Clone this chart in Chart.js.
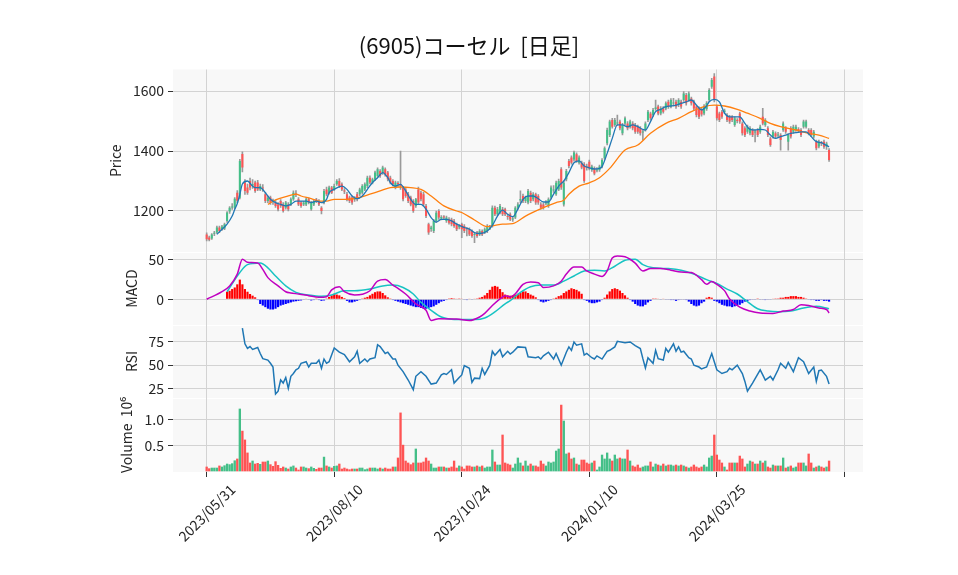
<!DOCTYPE html>
<html>
<head>
<meta charset="utf-8">
<script src="https://cdn.jsdelivr.net/npm/chart.js@4.4.1/dist/chart.umd.min.js"></script>
<style>
  html, body { margin: 0; padding: 0; background: #fff; }
  #wrap { width: 958px; height: 575px; }
</style>
</head>
<body>
<div id="wrap"><canvas id="chart" width="958" height="575"></canvas></div>
<script>
const chartTitle = "(6905)コーセル  [日足]";
const tickIndex = [0, 50, 100, 150, 200, 250];
const tickLabels = ["2023/05/31", "2023/08/10", "2023/10/24", "2024/01/10", "2024/03/25", ""];

// daily candles (yen)
const opens = [
  1122,1112,1108,1124,1128,1145,1139,1142,1167,1198, 1212,1211,1261,1244,1390,1295,1278,1300,1285,1295,
  1295,1272,1278,1256,1233,1245,1232,1228,1222,1233, 1222,1211,1222,1222,1239,1258,1239,1228,1222,1222,
  1239,1206,1222,1236,1233,1211,1228,1272,1261,1278, 1272,1289,1300,1289,1268,1256,1245,1245,1238,1256,
  1256,1261,1272,1283,1311,1295,1306,1317,1333,1328, 1339,1328,1311,1300,1278,1292,1290,1278,1272,1256,
  1245,1233,1217,1272,1261,1256,1217,1156,1140,1133, 1167,1200,1175,1180,1167,1172,1172,1167,1156,1146,
  1156,1150,1141,1139,1133,1120,1128,1122,1133,1128, 1133,1142,1150,1211,1189,1195,1206,1206,1182,1189,
  1172,1178,1211,1235,1250,1233,1228,1261,1239,1256, 1250,1222,1222,1225,1217,1245,1268,1256,1272,1339,
  1222,1306,1367,1378,1372,1389,1361,1361,1356,1346, 1364,1337,1342,1335,1337,1348,1376,1426,1453,1503,
  1487,1492,1498,1459,1492,1492,1481,1492,1487,1481, 1476,1462,1470,1503,1525,1520,1540,1548,1525,1542,
  1542,1564,1548,1558,1564,1553,1564,1570,1587,1570, 1575,1564,1548,1542,1540,1525,1540,1570,1614,1648,
  1548,1525,1531,1530,1520,1514,1514,1487,1502,1525, 1492,1476,1464,1459,1470,1462,1470,1464,1514,1487,
  1476,1442,1448,1459,1452,1453,1470,1476,1431,1476, 1464,1470,1472,1470,1481,1481,1470,1470,1448,1431,
  1415,1428,1431,1415,1403
];
const highs = [
  1127,1116,1125,1132,1150,1150,1152,1160,1198,1215, 1225,1245,1268,1372,1397,1305,1290,1310,1305,1300,
  1302,1290,1288,1262,1250,1250,1240,1235,1228,1238, 1228,1232,1228,1244,1267,1268,1245,1232,1232,1244,
  1244,1232,1238,1242,1238,1215,1272,1280,1283,1282, 1290,1305,1308,1294,1275,1262,1250,1250,1248,1262,
  1276,1288,1294,1316,1317,1310,1333,1344,1338,1350, 1344,1332,1316,1305,1300,1298,1400,1282,1278,1262,
  1250,1238,1242,1280,1266,1262,1222,1160,1150,1172, 1200,1205,1185,1185,1183,1178,1176,1172,1160,1155,
  1160,1155,1145,1144,1137,1128,1132,1138,1137,1144, 1155,1152,1217,1216,1212,1222,1212,1210,1190,1194,
  1180,1215,1228,1267,1256,1250,1272,1266,1261,1260, 1255,1228,1226,1235,1244,1284,1285,1300,1306,1345,
  1300,1339,1372,1384,1400,1394,1384,1366,1361,1356, 1370,1353,1347,1345,1353,1375,1414,1476,1503,1509,
  1509,1520,1503,1492,1514,1498,1503,1498,1492,1486, 1481,1470,1497,1536,1530,1542,1570,1553,1548,1548,
  1564,1570,1575,1576,1570,1575,1570,1598,1592,1597, 1580,1570,1553,1547,1545,1555,1565,1608,1642,1658,
  1553,1530,1536,1540,1525,1519,1518,1514,1508,1530, 1497,1481,1486,1481,1475,1470,1475,1486,1542,1508,
  1481,1447,1469,1464,1462,1458,1497,1481,1458,1481, 1486,1486,1478,1475,1503,1503,1475,1475,1469,1436,
  1436,1432,1436,1430,1408
];
const lows = [
  1100,1100,1105,1118,1125,1128,1135,1138,1162,1192, 1205,1208,1228,1240,1330,1255,1255,1270,1275,1262,
  1268,1268,1265,1228,1228,1222,1222,1212,1200,1212, 1196,1206,1200,1218,1235,1248,1218,1212,1218,1218,
  1224,1202,1218,1228,1218,1190,1224,1250,1256,1258, 1268,1285,1278,1268,1258,1234,1228,1222,1232,1234,
  1250,1256,1268,1278,1290,1290,1302,1312,1312,1322, 1316,1300,1290,1284,1274,1282,1272,1234,1245,1228,
  1217,1195,1212,1222,1234,1217,1178,1122,1132,1128, 1162,1172,1170,1172,1162,1156,1150,1145,1134,1140,
  1111,1128,1117,1118,1112,1094,1112,1118,1118,1124, 1128,1138,1146,1184,1184,1190,1184,1184,1172,1168,
  1165,1174,1206,1228,1228,1228,1224,1228,1234,1222, 1222,1206,1206,1220,1212,1240,1262,1252,1268,1272,
  1216,1300,1344,1356,1366,1362,1356,1340,1295,1336, 1337,1332,1320,1330,1332,1344,1372,1420,1448,1476,
  1482,1485,1470,1454,1488,1470,1476,1470,1459,1459, 1453,1437,1466,1498,1503,1515,1535,1520,1520,1526,
  1537,1542,1544,1550,1542,1548,1542,1565,1553,1565, 1553,1536,1514,1508,1516,1520,1535,1565,1609,1564,
  1503,1498,1509,1525,1498,1492,1498,1482,1494,1492, 1453,1448,1459,1454,1448,1430,1448,1459,1487,1482,
  1448,1415,1443,1442,1445,1403,1465,1459,1403,1443, 1459,1465,1462,1448,1476,1476,1454,1448,1443,1404,
  1410,1418,1409,1405,1365
];
const closes = [
  1106,1104,1122,1125,1145,1133,1148,1156,1195,1211, 1215,1241,1234,1367,1345,1267,1261,1278,1290,1267,
  1272,1283,1275,1233,1244,1228,1230,1217,1206,1217, 1200,1228,1206,1239,1261,1255,1222,1217,1228,1239,
  1228,1228,1233,1235,1222,1200,1267,1256,1278,1261, 1283,1300,1283,1272,1265,1239,1233,1228,1240,1239,
  1272,1283,1289,1311,1295,1306,1328,1339,1317,1345, 1322,1306,1295,1289,1295,1290,1283,1239,1250,1233,
  1222,1200,1239,1228,1239,1222,1183,1128,1145,1167, 1194,1178,1180,1178,1178,1161,1156,1150,1139,1150,
  1139,1133,1139,1122,1117,1122,1117,1133,1122,1139, 1150,1145,1211,1189,1206,1217,1189,1189,1180,1172,
  1175,1211,1222,1240,1233,1245,1267,1233,1256,1228, 1228,1211,1211,1228,1239,1278,1272,1294,1300,1278,
  1294,1333,1350,1361,1395,1367,1378,1345,1300,1344, 1342,1348,1325,1337,1348,1370,1409,1470,1498,1481,
  1503,1495,1476,1487,1509,1476,1498,1476,1464,1464, 1459,1465,1492,1531,1509,1537,1545,1525,1542,1531,
  1559,1548,1570,1562,1548,1570,1548,1592,1559,1592, 1559,1542,1520,1514,1522,1550,1560,1603,1637,1570,
  1509,1503,1514,1535,1503,1498,1503,1509,1500,1498, 1459,1453,1481,1476,1453,1465,1453,1481,1492,1503,
  1453,1420,1464,1448,1455,1437,1492,1464,1453,1448, 1481,1481,1470,1453,1498,1498,1459,1453,1464,1409,
  1431,1425,1414,1425,1370
];
// volume in millions of shares
const volumes = [
  0.09,0.058,0.07,0.07,0.07,0.11,0.09,0.115,0.147,0.135, 0.154,0.21,0.244,1.205,0.78,0.61,0.36,0.167,0.205,0.147,
  0.16,0.141,0.186,0.186,0.205,0.135,0.103,0.192,0.122,0.064, 0.09,0.07,0.051,0.09,0.11,0.07,0.032,0.09,0.09,0.07,
  0.058,0.09,0.064,0.045,0.07,0.07,0.28,0.11,0.09,0.07, 0.103,0.11,0.147,0.051,0.07,0.051,0.038,0.051,0.051,0.051,
  0.07,0.07,0.038,0.051,0.07,0.07,0.07,0.051,0.07,0.051, 0.07,0.051,0.051,0.09,0.09,0.263,1.13,0.51,0.205,0.167,
  0.135,0.167,0.436,0.167,0.167,0.186,0.263,0.205,0.147,0.07, 0.07,0.09,0.09,0.09,0.07,0.07,0.09,0.205,0.07,0.11,
  0.09,0.051,0.11,0.11,0.09,0.09,0.11,0.09,0.11,0.07, 0.09,0.09,0.417,0.186,0.128,0.128,0.705,0.167,0.147,0.128,
  0.07,0.147,0.263,0.167,0.11,0.205,0.11,0.147,0.11,0.11, 0.09,0.205,0.147,0.11,0.186,0.167,0.186,0.397,0.436,1.28,
  0.974,0.34,0.36,0.244,0.263,0.147,0.128,0.224,0.224,0.167, 0.147,0.167,0.205,0.032,0.09,0.32,0.244,0.36,0.244,0.205,
  0.32,0.244,0.263,0.244,0.244,0.417,0.205,0.11,0.09,0.128, 0.07,0.09,0.11,0.11,0.186,0.09,0.147,0.128,0.11,0.147,
  0.11,0.128,0.128,0.11,0.128,0.11,0.128,0.11,0.09,0.07, 0.09,0.128,0.09,0.07,0.09,0.128,0.09,0.263,0.3,0.705,
  0.32,0.224,0.167,0.09,0.032,0.167,0.167,0.167,0.167,0.30, 0.244,0.09,0.147,0.205,0.186,0.147,0.147,0.205,0.167,0.205,
  0.09,0.07,0.128,0.11,0.11,0.11,0.263,0.07,0.09,0.11, 0.07,0.09,0.167,0.167,0.167,0.11,0.34,0.167,0.07,0.09,
  0.11,0.09,0.07,0.09,0.205
];

// moving averages, read at the bar indexes in *At
const ma5At = [4,6,8,10,11,12,13,14,16,18,19,21,23,25,27,29,31,33,35,37,39,41,43,45,47,48,50,53,55,57,59,61,63,65,67,69,71,72,74,76,78,80,82,84,86,88,90,92,94,96,98,101,103,105,107,110,112,114,116,118,120,122,124,126,128,130,132,134,136,138,140,142,144,146,148,150,152,154,155,157,159,161,163,165,167,169,171,172,174,176,178,180,182,184,186,188,190,192,194,196,197,199,201,203,205,207,209,211,213,215,217,219,221,223,225,227,229,231,233,235,237,239,241,242,244];
const ma5 = [1122,1139,1156,1183,1205,1225,1255,1290,1300,1283,1278,1278,1261,1239,1228,1222,1217,1222,1233,1233,1233,1228,1233,1228,1239,1261,1272,1283,1272,1250,1241,1250,1272,1295,1311,1328,1311,1295,1283,1289,1267,1239,1222,1222,1206,1178,1163,1172,1172,1167,1156,1145,1139,1128,1125,1133,1152,1183,1203,1189,1181,1206,1239,1250,1250,1241,1230,1230,1256,1283,1300,1328,1361,1367,1350,1344,1340,1342,1348,1392,1442,1487,1487,1481,1487,1481,1472,1470,1498,1531,1539,1548,1550,1553,1559,1564,1570,1553,1537,1550,1564,1572,1564,1526,1514,1514,1514,1492,1472,1470,1472,1470,1453,1442,1448,1453,1459,1461,1464,1464,1448,1431,1428,1423,1414];
const ma25At = [24,27,31,35,37,41,44,47,50,55,60,64,68,72,76,80,84,88,93,98,100,105,110,113,116,120,125,132,137,140,142,146,150,154,158,164,169,174,180,185,190,195,199,203,208,212,217,221,225,231,236,240,244];
const ma25 = [1222,1237,1248,1256,1250,1241,1233,1233,1239,1239,1245,1256,1267,1278,1280,1278,1272,1250,1217,1200,1195,1170,1148,1152,1156,1158,1183,1211,1228,1236,1256,1283,1294,1311,1342,1403,1420,1459,1492,1509,1531,1548,1553,1550,1539,1526,1509,1492,1481,1470,1459,1453,1442];

// MACD panel
const macdAt = [0,6,9,12,14,16,20,22,24,28,31,33,36,40,44,47,49,52,54,58,61,64,67,70,73,75,78,82,86,88,91,98,103,107,109,112,115,117,119,121,124,127,130,132,136,139,141,144,147,149,152,155,157,159,161,164,168,171,174,178,182,186,190,194,196,198,200,203,205,209,213,217,222,226,230,233,236,240,243,244];
const macd = [0,9.6,17,32,51,47,46,38,27.5,17,9.6,8,6.7,4.6,2.5,3.3,12,16,9.6,5.4,6.3,10.8,23,25,18,14,6.7,-5.8,-14,-27,-24.6,-25,-27,-22.5,-18,-8,0.4,4.6,3,7,19,22,21,15,17,23,32,41,41,36,32,29,36,52.5,55,54,46,36,39,39,37,34.6,34,25,19,22.5,19,11,0.4,-10,-15,-17.5,-18,-15,-13,-7,-8,-11,-13,-17.5];
const signalAt = [8,13,16,21,24,27,31,35,40,45,49,54,58,64,69,73,77,81,84,88,92,95,100,105,109,113,117,119,123,127,131,136,140,144,148,152,156,160,164,168,171,175,181,186,191,196,200,204,208,212,216,220,224,229,234,239,244];
const signal = [9.6,34,44,46,40,29.6,17,8.8,5.4,3.8,5.4,10.8,10.8,13,17,18,15,6.7,-3.8,-14,-22.5,-25,-25.8,-25.8,-23.8,-16,-5.8,-1.7,8.8,16,18,18,23,29.6,36,37,36,42,49.6,51,44,40,39,37,32,25,20,13,6.7,-3,-12,-15,-16,-15,-11,-9,-12];
const hist = [
  null,null,null,null,null,null,null,null,9.6,10.8, 13,15,19,25,19,13,9.6,6.7,4.6,2.5,
  -1,-6,-8,-10,-12,-13,-13,-12,-10,-8, -7,-6,-5,-4,-3,-2.5,-2,-1.5,-0.5,0.5,
  -0.5,-1.5,-1,0.3,-1,-2,-1.5,1,3,5, 7,6,5,3,1.5,-2,-4,-4,-3,-2,
  -1,1,2,3,5,7,9,10,10,8, 5,2.5,1,-1,-2,-3,-4,-5,-6,-7,
  -8,-9,-10,-10,-11,-12,-12,-11,-10,-9, -7,-5,-3,-2,-1,1,1.5,1,0.5,1,
  0.5,-0.5,-1,0.5,-0.5,0.5,1,2,3,5, 8,12,16,17,16,13,9,6,5,4.6,
  5,6,7,8,10,10,8,6,4.6,2.5, -1,-3,-4,-3,-2,-1,1,2,4,5,
  8,10,12,14,13,12,10,7,-1,-2, -4,-5,-5,-4,-3,-1,2,6,10,13,
  14,13,11,8,5,2,-1,-3,-6,-8, -9,-9,-7,-4,-2,1,1,0.5,-0.5,0.5,
  -0.5,-0.5,-1,-1,-2,-1,-0.5,-0.5,-1,-3, -6,-8,-9,-8,-5,-3,2,3,2,-2,
  -3,-5,-7,-8,-9,-9,-10,-9,-8,-7, -5,-3,-2,-1,-0.5,-0.5,1,-0.5,-0.5,-1,
  -0.5,-0.5,0.5,1,1,2,2,3,3,4, 4,4,3,3,2,1,-0.5,-1,-1,-2,
  -2,-1,-2,-2,-3
];

// RSI panel
const rsiAt = [14,15,16,17,18,20,21,22,24,25,26,27,28,29,30,31,32,33,34,35,36,37,39,40,41,43,44,45,46,47,48,50,52,54,56,58,59,60,62,63,64,66,67,68,70,71,73,74,75,77,79,81,82,84,86,88,90,92,93,94,96,97,99,100,101,103,104,105,107,108,109,111,112,113,115,116,118,119,120,122,125,126,129,130,131,132,134,136,137,139,141,142,143,144,145,147,148,149,151,152,153,155,156,157,158,160,161,164,166,168,170,171,172,173,175,176,177,179,180,181,183,184,185,186,187,189,190,191,193,194,196,198,199,200,202,204,205,206,208,210,211,212,214,217,218,219,221,222,224,225,227,228,230,232,234,236,238,239,240,241,243,244];
const rsi = [90,73,68,70,67,69,62.6,57,55.5,52,48,19,22,34,30.7,36.7,25,38,41,45,46.6,52,53.7,48,52,52,55.5,46.6,56.6,52,53.7,68.6,64,61.5,53.7,59,65,52,56.6,53.7,56.6,58,72,70,62.6,64,56.6,56.6,50,43,34,23.6,38,43,38,29.6,30.7,39.5,41,40,45,30.7,36.7,39.5,49.5,46.6,31.4,36,35.5,46.6,40,50,65,60.8,67,59,65,62,64,69.7,69,59,58,59,56.6,60,64,56.6,62.6,50,64,69.7,66,75,71.5,73,60.8,62.6,58,56.6,60,56.6,60.8,65,66,69.7,75.7,74.3,75,71,68,57,47,58,52,66,57,55.5,68,64,73,65,69.7,64,65,58,56.6,50,48,46,48,62.6,53.7,45,41,43,46.6,45,50,41,32.5,22,30.7,45,39.5,34,38,34,45,52,46.6,53,43,58,53.7,41,48,32.5,44,44.7,38,29.6];

const UP = "#44bf88";
const DOWN = "#fe5454";
const TXT = "#262626";
const GRID = "#d3d3d3";
const FONT = "'Noto Sans CJK JP', 'Noto Sans', sans-serif";

const idx = closes.map((c, i) => i);
const candleColors = idx.map(i => closes[i] >= opens[i] ? UP : DOWN);
const pts = (at, vals) => at.map((x, k) => ({ x: x, y: vals[k] }));
const histIdx = idx.filter(i => hist[i] !== null);

const panelBg = {
  id: "panelBg",
  beforeDraw(chart) {
    const { ctx, chartArea, scales } = chart;
    ctx.save();
    ctx.fillStyle = "#f8f8f8";
    ["yPrice", "yMacd", "yRsi", "yVol"].forEach((id, k) => {
      const s = scales[id];
      const top = k === 0 ? s.top : s.top + 1;
      ctx.fillRect(chartArea.left, top, chartArea.right - chartArea.left, s.bottom - top);
    });
    ctx.restore();
  },
  afterDraw(chart) {
    const ctx = chart.ctx;
    ctx.save();
    ctx.fillStyle = "#111";
    ctx.font = "22px " + FONT;
    ctx.textAlign = "center";
    ctx.textBaseline = "middle";
    ctx.fillText(chartTitle, 469, 46);
    ctx.restore();
  }
};

function fixTicks(values) {
  return (s) => { s.ticks = values.map(v => ({ value: v })); };
}

function yAxis(weight, min, max, ticks, title, titlePad, fmt) {
  return {
    type: "linear",
    position: "left",
    stack: "panels",
    stackWeight: weight,
    offset: false,
    min: min,
    max: max,
    afterBuildTicks: fixTicks(ticks),
    afterFit: (s) => { s.width = 173; },
    border: { display: false },
    grid: { color: GRID, lineWidth: 1, tickLength: 5, tickColor: "#333" },
    ticks: {
      color: TXT, padding: 4, font: { family: FONT, size: 14 },
      callback: fmt || ((v) => String(v))
    },
    title: { display: true, text: title, color: TXT, font: { family: FONT, size: 14 }, padding: { top: titlePad, bottom: 0 } }
  };
}

new Chart(document.getElementById("chart"), {
  type: "bar",
  data: {
    datasets: [
      { type: "line", label: "MA5", yAxisID: "yPrice", data: pts(ma5At, ma5), borderColor: "#1f77b4", borderWidth: 1.3, pointRadius: 0, cubicInterpolationMode: "monotone", order: 0 },
      { type: "line", label: "MA25", yAxisID: "yPrice", data: pts(ma25At, ma25), borderColor: "#ff7f0e", borderWidth: 1.3, pointRadius: 0, cubicInterpolationMode: "monotone", order: 0 },
      { type: "bar", label: "body", yAxisID: "yPrice", data: idx.map(i => ({ x: i, y: [opens[i], closes[i]] })), backgroundColor: candleColors, barPercentage: 0.8, categoryPercentage: 1, grouped: false, minBarLength: 1, order: 1 },
      { type: "bar", label: "wick", yAxisID: "yPrice", data: idx.map(i => ({ x: i, y: [lows[i], highs[i]] })), backgroundColor: "#9a9a9a", barThickness: 1, grouped: false, order: 2 },
      { type: "line", label: "MACD", yAxisID: "yMacd", data: pts(macdAt, macd), borderColor: "#c000c0", borderWidth: 1.5, pointRadius: 0, cubicInterpolationMode: "monotone", order: 0 },
      { type: "line", label: "Signal", yAxisID: "yMacd", data: pts(signalAt, signal), borderColor: "#17c3c3", borderWidth: 1.5, pointRadius: 0, cubicInterpolationMode: "monotone", order: 0 },
      { type: "bar", label: "Hist", yAxisID: "yMacd", data: histIdx.map(i => ({ x: i, y: hist[i] })), backgroundColor: histIdx.map(i => hist[i] >= 0 ? "#ff0000" : "#0000ff"), barPercentage: 0.85, categoryPercentage: 1, grouped: false, order: 1 },
      { type: "line", label: "RSI", yAxisID: "yRsi", data: pts(rsiAt, rsi), borderColor: "#1f77b4", borderWidth: 1.5, pointRadius: 0, tension: 0, order: 0 },
      { type: "bar", label: "Volume", yAxisID: "yVol", data: idx.map(i => ({ x: i, y: volumes[i] })), backgroundColor: candleColors, barPercentage: 0.92, categoryPercentage: 1, grouped: false, order: 1 }
    ]
  },
  options: {
    responsive: false,
    animation: false,
    devicePixelRatio: 1,
    layout: { padding: { top: 69.5, right: 95, bottom: 0, left: 0 } },
    plugins: { legend: { display: false }, tooltip: { enabled: false }, title: { display: false } },
    scales: {
      x: {
        type: "linear",
        offset: false,
        min: -13.2,
        max: 257.3,
        afterBuildTicks: fixTicks(tickIndex),
        afterFit: (s) => { s.height = 103; },
        border: { display: false },
        grid: { offset: false, color: GRID, lineWidth: 1, tickLength: 5, tickColor: "#333" },
        ticks: {
          autoSkip: false, minRotation: 45, maxRotation: 45, labelOffset: 26, padding: 4,
          color: TXT, font: { family: FONT, size: 14 },
          callback: (v) => tickLabels[tickIndex.indexOf(v)]
        }
      },
      yVol: yAxis(74, -0.013, 1.41, [0.5, 1.0], "Volume  10\u2076", 118, (v) => v.toFixed(1)),
      yRsi: yAxis(73, 14.6, 93.3, [25, 50, 75], "RSI", 123),
      yMacd: yAxis(73, -32.7, 60.1, [0, 50], "MACD", 123.5),
      yPrice: yAxis(182.5, 1063.3, 1671.7, [1200, 1400, 1600], "Price", 107.5)
    }
  },
  plugins: [panelBg]
});
</script>
</body>
</html>
